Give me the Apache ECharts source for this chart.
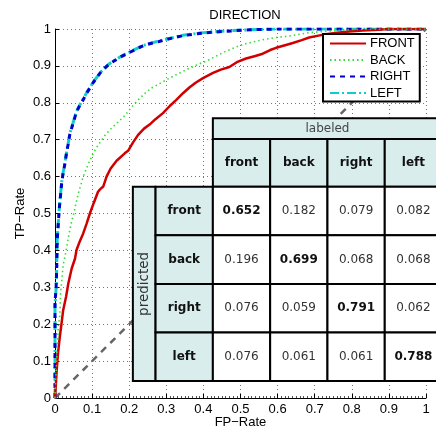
<!DOCTYPE html>
<html>
<head>
<meta charset="utf-8">
<script src="https://cdn.jsdelivr.net/npm/echarts@6/dist/echarts.min.js"></script>
<style>
html, body { margin: 0; padding: 0; background: #fff; }
#chart { width: 436px; height: 430px; }
</style>
</head>
<body>
<div id="chart"></div>
<script>
// ROC curves, [FP-Rate, TP-Rate]
var frontRoc = [[0,0],[0.002,0.03],[0.0045,0.075],[0.008,0.12],[0.013,0.166],[0.018,0.205],[0.022,0.238],[0.03,0.275],[0.036,0.311],[0.045,0.351],[0.054,0.378],[0.058,0.401],[0.067,0.425],[0.076,0.446],[0.085,0.472],[0.094,0.5],[0.105,0.53],[0.116,0.559],[0.122,0.566],[0.13,0.573],[0.139,0.6],[0.15,0.622],[0.166,0.643],[0.17,0.645],[0.188,0.663],[0.197,0.67],[0.21,0.692],[0.224,0.713],[0.24,0.73],[0.255,0.741],[0.27,0.755],[0.291,0.772],[0.31,0.792],[0.327,0.808],[0.345,0.826],[0.363,0.842],[0.38,0.855],[0.399,0.867],[0.426,0.881],[0.447,0.89],[0.47,0.897],[0.49,0.91],[0.515,0.92],[0.54,0.927],[0.56,0.933],[0.58,0.943],[0.596,0.949],[0.62,0.956],[0.641,0.962],[0.665,0.97],[0.685,0.977],[0.71,0.982],[0.73,0.986],[0.76,0.99],[0.793,0.993],[0.83,0.996],[0.87,0.998],[0.9,1],[1,1]];
var backRoc = [[0,0],[0.002,0.05],[0.0045,0.102],[0.009,0.193],[0.013,0.224],[0.015,0.283],[0.022,0.36],[0.029,0.395],[0.036,0.435],[0.045,0.48],[0.049,0.493],[0.056,0.525],[0.063,0.555],[0.07,0.578],[0.076,0.6],[0.09,0.635],[0.103,0.663],[0.112,0.679],[0.121,0.692],[0.135,0.712],[0.148,0.727],[0.168,0.746],[0.188,0.765],[0.208,0.79],[0.228,0.812],[0.245,0.828],[0.26,0.84],[0.282,0.852],[0.309,0.867],[0.336,0.881],[0.363,0.894],[0.39,0.906],[0.412,0.915],[0.435,0.927],[0.457,0.938],[0.48,0.948],[0.506,0.958],[0.535,0.965],[0.56,0.971],[0.596,0.977],[0.632,0.981],[0.685,0.99],[0.721,0.993],[0.76,0.996],[0.8,0.999],[0.85,1],[1,1]];
var rightRoc = [[0,0],[0,0.26],[0.003,0.3],[0.0045,0.347],[0.006,0.428],[0.01,0.49],[0.012,0.518],[0.015,0.55],[0.018,0.582],[0.022,0.61],[0.027,0.636],[0.032,0.67],[0.036,0.69],[0.04,0.715],[0.049,0.745],[0.058,0.776],[0.067,0.793],[0.076,0.808],[0.085,0.826],[0.094,0.84],[0.103,0.855],[0.112,0.867],[0.121,0.88],[0.13,0.89],[0.143,0.902],[0.157,0.912],[0.18,0.926],[0.202,0.937],[0.22,0.946],[0.237,0.954],[0.255,0.96],[0.28,0.966],[0.31,0.974],[0.345,0.982],[0.39,0.988],[0.435,0.992],[0.48,0.995],[0.524,0.998],[0.6,1],[1,1]];
var leftRoc = [[0,0],[0,0.25],[0.003,0.298],[0.0045,0.35],[0.006,0.43],[0.01,0.492],[0.012,0.52],[0.015,0.552],[0.018,0.585],[0.022,0.612],[0.027,0.64],[0.032,0.672],[0.036,0.692],[0.04,0.717],[0.049,0.747],[0.058,0.777],[0.067,0.795],[0.076,0.81],[0.085,0.827],[0.094,0.841],[0.103,0.856],[0.112,0.868],[0.121,0.881],[0.13,0.891],[0.143,0.903],[0.157,0.913],[0.18,0.927],[0.202,0.938],[0.22,0.947],[0.237,0.955],[0.255,0.961],[0.28,0.967],[0.31,0.975],[0.345,0.983],[0.39,0.989],[0.435,0.993],[0.48,0.996],[0.524,0.998],[0.6,1],[1,1]];
var chanceLine = [[0,0],[1,1]];

// confusion matrix (rows: predicted, cols: labeled)
var classes = ['front', 'back', 'right', 'left'];
var confusion = [
    [0.652, 0.182, 0.079, 0.082],
    [0.196, 0.699, 0.068, 0.068],
    [0.076, 0.059, 0.791, 0.062],
    [0.076, 0.061, 0.061, 0.788]
];

// table cells
var cells = [];
cells.push({kind: 'labeled', col: 0, row: 0, text: 'labeled'});
cells.push({kind: 'predicted', col: 0, row: 0, text: 'predicted'});
classes.forEach(function (c, j) {
    cells.push({kind: 'colHead', col: j, row: 0, text: c});
    cells.push({kind: 'rowHead', col: 0, row: j, text: c});
});
confusion.forEach(function (r, i) {
    r.forEach(function (v, j) {
        cells.push({kind: 'value', col: j, row: i, text: v.toFixed(3), bold: i === j});
    });
});

var chart = echarts.init(document.getElementById('chart'));

var headFill = '#d9eded';
var tableFont = '"DejaVu Sans", sans-serif';
var axisFont = 'Liberation Sans';

function renderCell(params, api) {
    var c = cells[params.dataIndex];
    var o = api.coord([0.4255, 0.758]);
    var colW = 57.3, rowH = 48.6, topH = 20.7, headH = 47.7, rowHeadW = 57.3, sideW = 22.7;
    var bodyTop = o[1] + topH + headH;
    var x, y, w, h, fill = headFill, font = 'bold 12px ' + tableFont, color = '#111', rot = 0;
    if (c.kind === 'labeled') {
        x = o[0]; y = o[1]; w = 4 * colW; h = topH;
        font = '12px ' + tableFont; color = '#444';
    } else if (c.kind === 'colHead') {
        x = o[0] + c.col * colW; y = o[1] + topH; w = colW; h = headH;
    } else if (c.kind === 'predicted') {
        x = o[0] - rowHeadW - sideW; y = bodyTop; w = sideW; h = 4 * rowH;
        font = '13.5px ' + tableFont; color = '#333'; rot = Math.PI / 2;
    } else if (c.kind === 'rowHead') {
        x = o[0] - rowHeadW; y = bodyTop + c.row * rowH; w = rowHeadW; h = rowH;
    } else {
        x = o[0] + c.col * colW; y = bodyTop + c.row * rowH; w = colW; h = rowH;
        fill = '#fff';
        font = (c.bold ? 'bold ' : '') + '12px ' + tableFont;
        color = c.bold ? '#111' : '#333';
    }
    return {
        type: 'group',
        children: [
            {
                type: 'rect',
                shape: {x: x, y: y, width: w, height: h},
                style: {fill: fill, stroke: '#000', lineWidth: 2}
            },
            {
                type: 'text',
                x: x + w / 2,
                y: y + h / 2,
                rotation: rot,
                style: {
                    text: c.text, x: 0, y: 0, font: font, fill: color,
                    align: 'center', verticalAlign: 'middle'
                }
            }
        ]
    };
}

var option = {
    animation: false,
    title: {
        text: 'DIRECTION',
        left: 240,
        textAlign: 'center',
        top: 4,
        textStyle: {fontSize: 13, fontWeight: 'normal', color: '#000', fontFamily: axisFont}
    },
    legend: {
        orient: 'vertical',
        left: 323,
        top: 34,
        data: ['FRONT', 'BACK', 'RIGHT', 'LEFT'],
        itemWidth: 36,
        itemHeight: 12,
        itemGap: 3.5,
        padding: [3, 5, 2, 6],
        itemStyle: {opacity: 0},
        backgroundColor: '#fff',
        borderColor: '#000',
        borderWidth: 2,
        borderRadius: 0,
        textStyle: {fontSize: 13, color: '#000', fontFamily: axisFont, padding: [0, 0, 0, -1]}
    },
    grid: {left: 55, right: 10, top: 29, bottom: 32, containLabel: false, outerBoundsMode: 'none'},
    xAxis: {
        type: 'value',
        min: 0,
        max: 1,
        interval: 0.1,
        name: 'FP\u2212Rate',
        nameLocation: 'middle',
        nameGap: 18,
        nameMoveOverlap: false,
        nameTextStyle: {fontSize: 13, color: '#000', fontFamily: axisFont},
        axisLine: {show: true, lineStyle: {color: '#000', width: 1}},
        axisTick: {show: true, inside: true, length: 4, lineStyle: {color: '#000'}},
        minorTick: {show: true, splitNumber: 10, length: 2, lineStyle: {color: '#555'}},
        axisLabel: {fontSize: 13, color: '#000', margin: 5, fontFamily: axisFont},
        splitLine: {show: true, lineStyle: {color: '#777', type: [1, 3], width: 1}}
    },
    yAxis: {
        type: 'value',
        min: 0,
        max: 1,
        interval: 0.1,
        name: 'TP\u2212Rate',
        nameLocation: 'middle',
        nameGap: 28,
        nameMoveOverlap: false,
        nameTextStyle: {fontSize: 13, color: '#000', fontFamily: axisFont},
        axisLine: {show: true, lineStyle: {color: '#000', width: 1}},
        axisTick: {show: true, inside: true, length: 4, lineStyle: {color: '#000'}},
        axisLabel: {fontSize: 13, color: '#000', margin: 4, fontFamily: axisFont},
        splitLine: {show: true, lineStyle: {color: '#777', type: [1, 3], width: 1}}
    },
    series: [
        {
            name: 'chance',
            type: 'line',
            data: chanceLine,
            symbol: 'none',
            silent: true,
            lineStyle: {color: '#666', width: 2.5, type: [7, 6]},
            z: 1
        },
        {
            name: 'FRONT',
            type: 'line',
            data: frontRoc,
            symbol: 'none',
            itemStyle: {color: '#d00000'},
            lineStyle: {color: '#d00000', width: 2.5}
        },
        {
            name: 'BACK',
            type: 'line',
            data: backRoc,
            symbol: 'none',
            itemStyle: {color: '#33dd33'},
            lineStyle: {color: '#33dd33', width: 1.6, type: [1.5, 3]}
        },
        {
            name: 'RIGHT',
            type: 'line',
            data: rightRoc,
            symbol: 'none',
            itemStyle: {color: '#0000cc'},
            lineStyle: {color: '#0000cc', width: 3, type: [5, 5]},
            z: 2.2
        },
        {
            name: 'LEFT',
            type: 'line',
            data: leftRoc,
            symbol: 'none',
            itemStyle: {color: '#11cccc'},
            lineStyle: {color: '#11cccc', width: 3, type: [9, 3, 2, 3]},
            z: 2.1
        },
        {
            name: 'table',
            type: 'custom',
            clip: false,
            silent: true,
            z: 3,
            renderItem: renderCell,
            data: cells.map(function (c) { return [c.col, c.row]; })
        }
    ]
};

chart.setOption(option);
window.onresize = function () {
    chart.resize();
};
</script>
</body>
</html>
